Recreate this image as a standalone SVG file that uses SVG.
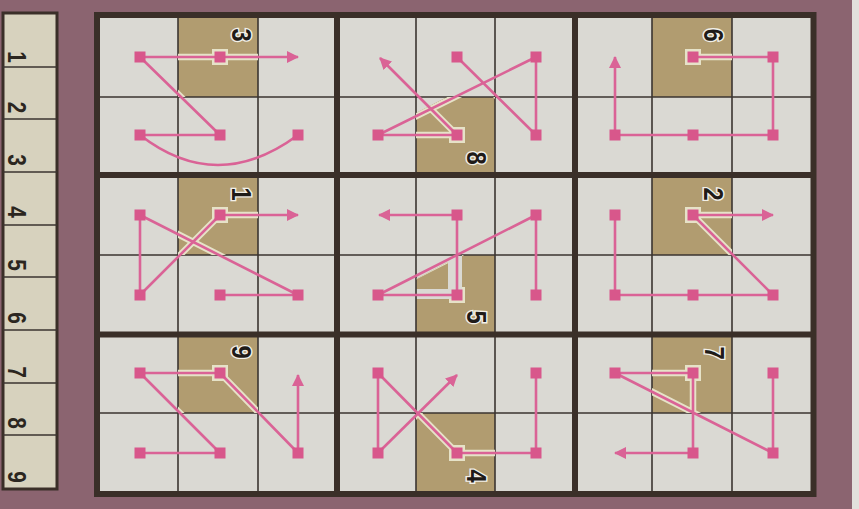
<svg xmlns="http://www.w3.org/2000/svg" width="859" height="509" viewBox="0 0 859 509">
<style>
.bg{fill:#8b6470}
.cell{fill:#dad9d3}
.shade{fill:#b19c70}
.thin{stroke:#3b3531;stroke-width:1.6;fill:none}
.thick{stroke:#3a2f28;stroke-width:6;fill:none}
.halo{stroke:#e6e2c8;stroke-width:6.5;fill:none;stroke-linecap:round}
.haloq{fill:#e6e2c8}
.ln{stroke:#da6396;stroke-width:2.6;fill:none}
.arr{stroke:#da6396;stroke-width:2.6;fill:none;marker-end:url(#ah)}
.mk{fill:#d8578b}
.num{font-family:"Liberation Sans",Arial,sans-serif;font-weight:bold;font-size:28px;fill:#1f1b18;text-anchor:middle;stroke:#f2f0e8;stroke-width:3;paint-order:stroke}
.snum{font-family:"Liberation Sans",Arial,sans-serif;font-weight:bold;font-size:26px;fill:#2b2620;text-anchor:middle}
</style>
<defs>
<marker id="ah" viewBox="0 0 12 12" refX="11" refY="6" markerWidth="12" markerHeight="12" markerUnits="userSpaceOnUse" orient="auto">
<path d="M0,0 L12,6 L0,12 Z" fill="#da6396"/>
</marker>
<rect id="m" x="-5.5" y="-5.5" width="11" height="11" class="mk"/>
<rect id="mh" x="-8" y="-8" width="16" height="16" class="haloq"/>
<clipPath id="shclip">
<rect x="178" y="15" width="80" height="82"/>
<path d="M416,113 L447,97 L495,97 L495,175 L416,175 Z"/>
<rect x="652" y="15" width="80" height="82"/>
<rect x="178" y="175" width="80" height="80"/>
<path d="M416,279 L448,262 L448,289 L416,289 Z M462,255 L495,255 L495,335 L416,335 L416,299 L462,299 Z"/>
<rect x="652" y="175" width="80" height="80"/>
<rect x="178" y="335" width="80" height="78"/>
<rect x="416" y="413" width="79" height="81"/>
<rect x="652" y="335" width="80" height="78"/>
</clipPath>
</defs>

<rect class="bg" x="0" y="0" width="859" height="509"/>
<rect x="852" y="0" width="7" height="509" fill="#e2e0dc"/>

<g id="strip">
<rect x="3" y="13" width="54" height="476" fill="#d7d2be" stroke="#3a2f28" stroke-width="3"/>
<path class="thin" d="M3,67H57M3,119H57M3,172H57M3,225H57M3,277H57M3,330H57M3,383H57M3,435H57"/>
<text class="snum" transform="translate(17.5,57) rotate(90) scale(0.8,1)" y="9">1</text>
<text class="snum" transform="translate(17.5,107.5) rotate(90) scale(0.8,1)" y="9">2</text>
<text class="snum" transform="translate(17.5,160) rotate(90) scale(0.8,1)" y="9">3</text>
<text class="snum" transform="translate(17.5,212) rotate(90) scale(0.8,1)" y="9">4</text>
<text class="snum" transform="translate(17.5,265) rotate(90) scale(0.8,1)" y="9">5</text>
<text class="snum" transform="translate(17.5,318) rotate(90) scale(0.8,1)" y="9">6</text>
<text class="snum" transform="translate(17.5,372) rotate(90) scale(0.8,1)" y="9">7</text>
<text class="snum" transform="translate(17.5,423) rotate(90) scale(0.8,1)" y="9">8</text>
<text class="snum" transform="translate(17.5,477) rotate(90) scale(0.8,1)" y="9">9</text>
</g>

<g id="board">
<rect class="cell" x="97" y="15" width="716" height="479"/>
<rect class="shade" x="178" y="15" width="80" height="82"/>
<path class="shade" d="M416,113 L447,97 L495,97 L495,175 L416,175 Z"/>
<rect class="shade" x="652" y="15" width="80" height="82"/>
<rect class="shade" x="178" y="175" width="80" height="80"/>
<path class="shade" d="M416,279 L448,262 L448,289 L416,289 Z M462,255 L495,255 L495,335 L416,335 L416,299 L462,299 Z"/>
<rect class="shade" x="652" y="175" width="80" height="80"/>
<rect class="shade" x="178" y="335" width="80" height="78"/>
<rect class="shade" x="416" y="413" width="79" height="81"/>
<rect class="shade" x="652" y="335" width="80" height="78"/>
<path class="thin" d="M178,15V494M258,15V494M416,15V494M495,15V494M652,15V494M732,15V494M97,97H813M97,255H813M97,413H813"/>
<path class="thick" d="M337,15V494M575,15V494M97,175H813M97,334.5H813"/>
<rect class="thick" x="97" y="15" width="716.5" height="479"/>
</g>

<g id="connectors">
<g clip-path="url(#shclip)">
<path class="halo" d="M140,57H298M140,57L220,135M220,215H298M140,215L298,295M140,295L220,215M140,373H220M140,373L220,453M220,373L298,453"/>
<path class="halo" d="M378,135H457M378,135L536,57M457,57L536,135M457,135L380,58M378,295H457M378,295L536,215M457,215V295M378,373L457,453M457,453H536M378,453L457,375"/>
<path class="halo" d="M693,57H773M615,135H773M693,215H773M693,215L773,295M615,373H693M615,373L773,453M693,373V453"/>
<use href="#mh" x="220" y="57"/><use href="#mh" x="457" y="135"/><use href="#mh" x="693" y="57"/>
<use href="#mh" x="220" y="215"/><use href="#mh" x="457" y="295"/><use href="#mh" x="693" y="215"/>
<use href="#mh" x="220" y="373"/><use href="#mh" x="457" y="453"/><use href="#mh" x="693" y="373"/>
</g>
<path class="ln" d="M140,57H220M140,57L220,135M140,135H220M140,135Q217,195 298,135"/>
<path class="arr" d="M220,57H298"/>
<path class="ln" d="M378,135H457M378,135L536,57M536,57V135M457,57L536,135"/>
<path class="arr" d="M457,135L380,58"/>
<path class="ln" d="M693,57H773M773,57V135M615,135H773"/>
<path class="arr" d="M615,135V57"/>
<path class="ln" d="M140,215V295M140,215L298,295M140,295L220,215M220,295H298"/>
<path class="arr" d="M220,215H298"/>
<path class="ln" d="M457,215V295M378,295H457M378,295L536,215M536,215V295"/>
<path class="arr" d="M457,215H379"/>
<path class="ln" d="M615,215V295M615,295H773M693,215L773,295"/>
<path class="arr" d="M693,215H773"/>
<path class="ln" d="M140,373H220M140,373L220,453M140,453H220M220,373L298,453"/>
<path class="arr" d="M298,453V375"/>
<path class="ln" d="M378,373V453M378,373L457,453M457,453H536M536,373V453"/>
<path class="arr" d="M378,453L457,375"/>
<path class="ln" d="M615,373H693M615,373L773,453M773,373V453M693,373V453"/>
<path class="arr" d="M693,453H615"/>
</g>

<g id="nodes">
<g id="box1">
<use href="#m" x="140" y="57"/><use href="#m" x="220" y="57"/><use href="#m" x="140" y="135"/><use href="#m" x="220" y="135"/><use href="#m" x="298" y="135"/>
<text class="num" transform="translate(242,35) rotate(90) scale(0.85,1)" y="10">3</text>
</g>
<g id="box2">
<use href="#m" x="457" y="57"/><use href="#m" x="536" y="57"/><use href="#m" x="378" y="135"/><use href="#m" x="457" y="135"/><use href="#m" x="536" y="135"/>
<text class="num" transform="translate(477,158) rotate(90) scale(0.85,1)" y="10">8</text>
</g>
<g id="box3">
<use href="#m" x="693" y="57"/><use href="#m" x="773" y="57"/><use href="#m" x="615" y="135"/><use href="#m" x="693" y="135"/><use href="#m" x="773" y="135"/>
<text class="num" transform="translate(714,35) rotate(90) scale(0.85,1)" y="10">6</text>
</g>
<g id="box4">
<use href="#m" x="140" y="215"/><use href="#m" x="220" y="215"/><use href="#m" x="140" y="295"/><use href="#m" x="220" y="295"/><use href="#m" x="298" y="295"/>
<text class="num" transform="translate(242,194) rotate(90) scale(0.85,1)" y="10">1</text>
</g>
<g id="box5">
<use href="#m" x="457" y="215"/><use href="#m" x="536" y="215"/><use href="#m" x="378" y="295"/><use href="#m" x="457" y="295"/><use href="#m" x="536" y="295"/>
<text class="num" transform="translate(477,317) rotate(90) scale(0.85,1)" y="10">5</text>
</g>
<g id="box6">
<use href="#m" x="615" y="215"/><use href="#m" x="693" y="215"/><use href="#m" x="615" y="295"/><use href="#m" x="693" y="295"/><use href="#m" x="773" y="295"/>
<text class="num" transform="translate(714,194) rotate(90) scale(0.85,1)" y="10">2</text>
</g>
<g id="box7">
<use href="#m" x="140" y="373"/><use href="#m" x="220" y="373"/><use href="#m" x="140" y="453"/><use href="#m" x="220" y="453"/><use href="#m" x="298" y="453"/>
<text class="num" transform="translate(242,352) rotate(90) scale(0.85,1)" y="10">9</text>
</g>
<g id="box8">
<use href="#m" x="378" y="373"/><use href="#m" x="536" y="373"/><use href="#m" x="378" y="453"/><use href="#m" x="457" y="453"/><use href="#m" x="536" y="453"/>
<text class="num" transform="translate(477,476) rotate(90) scale(0.85,1)" y="10">4</text>
</g>
<g id="box9">
<use href="#m" x="615" y="373"/><use href="#m" x="693" y="373"/><use href="#m" x="773" y="373"/><use href="#m" x="693" y="453"/><use href="#m" x="773" y="453"/>
<text class="num" transform="translate(715,353) rotate(90) scale(0.85,1)" y="10">7</text>
</g>
</g>
</svg>
